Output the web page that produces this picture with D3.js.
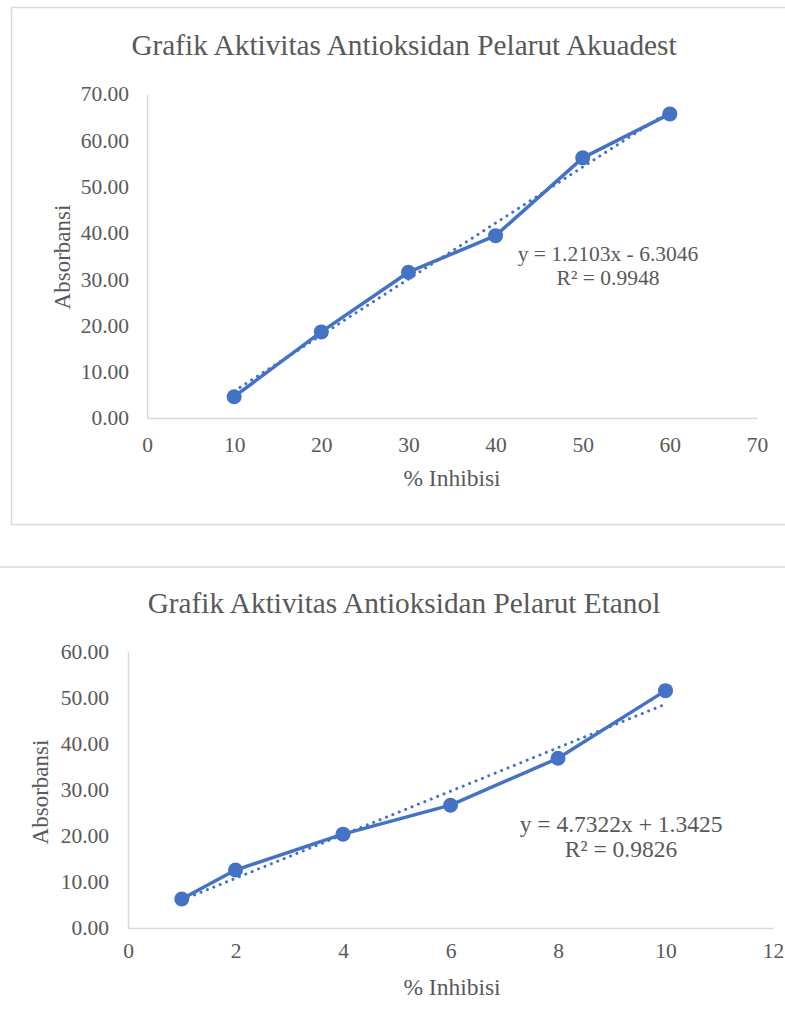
<!DOCTYPE html>
<html>
<head>
<meta charset="utf-8">
<script src="https://cdn.jsdelivr.net/npm/d3@7"></script>
<style>
  body { margin: 0; background: #fff; }
</style>
</head>
<body>
<div id="chart"></div>
<script>
// chart 1 - akuadest
var akuadestX = [10, 20, 30, 40, 50, 60];
var akuadestY = [4.6, 18.6, 31.5, 39.4, 56.2, 65.7];
var akuadestXTicks = [0, 10, 20, 30, 40, 50, 60, 70];
var akuadestYTicks = [0, 10, 20, 30, 40, 50, 60, 70];
var akuadestTrend = {slope: 1.2103, intercept: -6.3046};
var akuadestLabel = ["y = 1.2103x - 6.3046", "R\u00B2 = 0.9948"];

// chart 2 - etanol
var etanolX = [1, 2, 4, 6, 8, 10];
var etanolY = [6.3, 12.6, 20.4, 26.7, 36.9, 51.6];
var etanolXTicks = [0, 2, 4, 6, 8, 10, 12];
var etanolYTicks = [0, 10, 20, 30, 40, 50, 60];
var etanolTrend = {slope: 4.7322, intercept: 1.3425};
var etanolLabel = ["y = 4.7322x + 1.3425", "R\u00B2 = 0.9826"];

var blue = "#4472C4";
var gray = "#d9d9d9";
var font = "'Liberation Serif', 'Times New Roman', serif";
var textColor = "#595959";

var svg = d3.select("#chart").append("svg")
    .attr("width", 785)
    .attr("height", 1028);

//frames
svg.append("rect")
    .attr("x", 11.5).attr("y", 7.5)
    .attr("width", 800).attr("height", 517)
    .attr("fill", "none").attr("stroke", gray).attr("stroke-width", 1.5);
svg.append("rect")
    .attr("x", -10).attr("y", 567)
    .attr("width", 820).attr("height", 500)
    .attr("fill", "none").attr("stroke", gray).attr("stroke-width", 1.5);

function addText(g, x, y, size, str, rotate){
    var t = g.append("text")
        .attr("text-anchor", "middle")
        .style("font-family", font)
        .style("font-size", size + "px")
        .style("fill", textColor)
        .text(str);
    var tr = "translate(" + x + "," + y + ")";
    if (rotate){ tr += " rotate(-90)"; }
    t.attr("transform", tr);
    return t;
}

function drawChart(opt){
    var g = svg.append("g");

    var x = d3.scaleLinear().domain(opt.xDomain).range([opt.left, opt.right]);
    var y = d3.scaleLinear().domain(opt.yDomain).range([opt.bottom, opt.top]);

    //title
    addText(g, opt.titleX, opt.titleY, 29.3, opt.title);

    //axes
    var xAxis = d3.axisBottom(x).tickValues(opt.xTicks).tickSize(0).tickPadding(opt.xPad)
        .tickFormat(d3.format("d"));
    var yAxis = d3.axisLeft(y).tickValues(opt.yTicks).tickSize(0).tickPadding(opt.yPad)
        .tickFormat(d3.format(".2f"));

    var gx = g.append("g").attr("transform", "translate(0," + opt.bottom + ")").call(xAxis);
    var gy = g.append("g").attr("transform", "translate(" + opt.left + ",0)").call(yAxis);
    [gx, gy].forEach(function(a){
        a.attr("font-family", null).attr("font-size", null);
        a.select(".domain").attr("stroke", gray).attr("stroke-width", 1.5);
        a.selectAll("text")
            .style("font-family", font)
            .style("font-size", "21.5px")
            .attr("fill", textColor);
    });

    //axis titles
    addText(g, opt.xTitleX, opt.xTitleY, 23.5, "% Inhibisi");
    addText(g, opt.yTitleX, opt.yTitleY, 23, "Absorbansi", true);

    //trendline
    var xs = d3.extent(opt.xs);
    g.append("line")
        .attr("x1", x(xs[0])).attr("y1", y(opt.trend.slope * xs[0] + opt.trend.intercept))
        .attr("x2", x(xs[1])).attr("y2", y(opt.trend.slope * xs[1] + opt.trend.intercept))
        .attr("stroke", blue).attr("stroke-width", 3)
        .attr("stroke-dasharray", "0.1 6.8").attr("stroke-linecap", "round");

    //data line
    var pts = opt.xs.map(function(d, i){ return [d, opt.ys[i]]; });
    g.append("path")
        .datum(pts)
        .attr("fill", "none")
        .attr("stroke", blue)
        .attr("stroke-width", 3.5)
        .attr("stroke-linejoin", "round")
        .attr("d", d3.line().x(function(d){ return x(d[0]); }).y(function(d){ return y(d[1]); }));

    g.selectAll("circle")
        .data(pts)
        .enter().append("circle")
        .attr("cx", function(d){ return x(d[0]); })
        .attr("cy", function(d){ return y(d[1]); })
        .attr("r", 7.5)
        .attr("fill", blue);

    //equation
    opt.label.forEach(function(d, i){
        addText(g, opt.eqX, opt.eqY + i * opt.eqGap, opt.eqSize, d);
    });
}

drawChart({
    title: "Grafik Aktivitas Antioksidan Pelarut Akuadest",
    titleX: 404, titleY: 55,
    xs: akuadestX, ys: akuadestY,
    xTicks: akuadestXTicks, yTicks: akuadestYTicks,
    xDomain: [0, 70], yDomain: [0, 70],
    left: 147, right: 757, top: 94, bottom: 418,
    xPad: 19, yPad: 18,
    xTitleX: 452, xTitleY: 486,
    yTitleX: 70, yTitleY: 257,
    trend: akuadestTrend, label: akuadestLabel,
    eqX: 608, eqY: 261, eqSize: 21.5, eqGap: 24
});

drawChart({
    title: "Grafik Aktivitas Antioksidan Pelarut Etanol",
    titleX: 404, titleY: 613,
    xs: etanolX, ys: etanolY,
    xTicks: etanolXTicks, yTicks: etanolYTicks,
    xDomain: [0, 12], yDomain: [0, 60],
    left: 128, right: 773, top: 652, bottom: 928,
    xPad: 15, yPad: 19,
    xTitleX: 452, xTitleY: 995,
    yTitleX: 48, yTitleY: 792,
    trend: etanolTrend, label: etanolLabel,
    eqX: 621, eqY: 832, eqSize: 23.5, eqGap: 25
});
</script>
</body>
</html>
